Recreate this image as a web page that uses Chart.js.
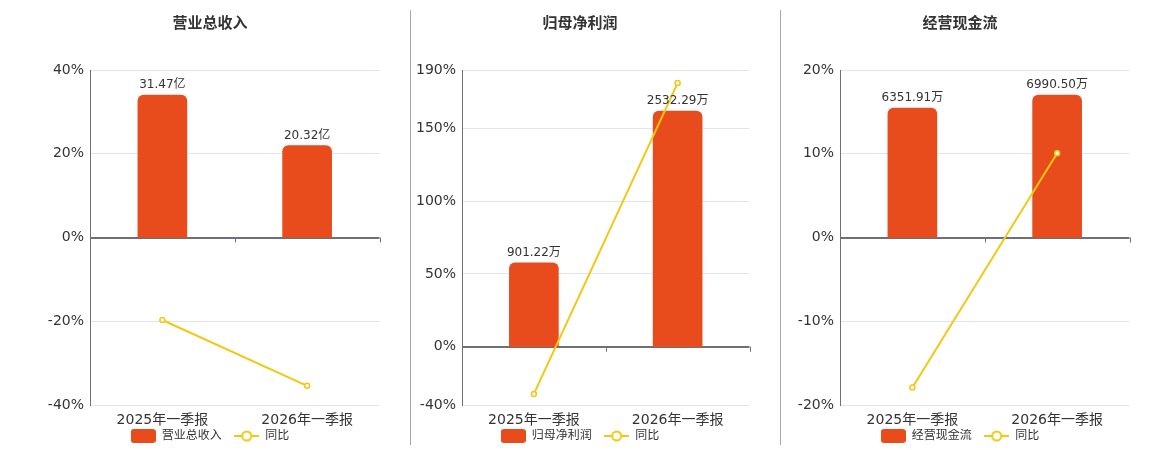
<!DOCTYPE html>
<html>
<head>
<meta charset="utf-8">
<script src="https://cdn.jsdelivr.net/npm/chart.js@4.4.1/dist/chart.umd.min.js"></script>
<style>
    body { margin: 0; background: #fff; width: 1160px; height: 450px; position: relative; overflow: hidden; }
    .panel { position: absolute; top: 0; height: 452px; }
    .sep { position: absolute; top: 10px; height: 435px; width: 1px; background: #a8a8a2; }
</style>
</head>
<body>
<div class="sep" style="left:410px"></div>
<div class="sep" style="left:780px"></div>
<div class="panel" style="left:35px;width:350px"><canvas id="c1" width="350" height="452"></canvas></div>
<div class="panel" style="left:405px;width:350px"><canvas id="c2" width="350" height="452"></canvas></div>
<div class="panel" style="left:785px;width:350px"><canvas id="c3" width="350" height="452"></canvas></div>

<script>
// 数据
const periods = ["2025年一季报", "2026年一季报"];

const revenue = [31.47, 20.32];       // 亿
const revenueYoy = [-19.7, -35.43];   // %
const revenueTicks = [-40, -20, 0, 20, 40];

const profit = [901.22, 2532.29];     // 万
const profitYoy = [-32.4, 180.99];
const profitTicks = [-40, 0, 50, 100, 150, 190];

const cashFlow = [6351.91, 6990.50];  // 万
const cashFlowYoy = [-17.9, 10.05];
const cashFlowTicks = [-20, -10, 0, 10, 20];

// 柱子的隐藏轴范围 (0 要和百分比轴的 0 对齐)
const revenueBarRange = [-37, 37];
const profitBarRange = [-626, 2974];
const cashFlowBarRange = [-8224, 8224];

const BAR_COLOR = "#E84C1C";
const LINE_COLOR = "#F2C811";

Chart.defaults.font.family = '"DejaVu Sans", "Noto Sans CJK SC", sans-serif';
Chart.defaults.color = "#333";

// 图例小图标
function legendBar() {
    const c = document.createElement("canvas");
    c.width = 25; c.height = 14;
    const g = c.getContext("2d");
    g.fillStyle = BAR_COLOR;
    g.beginPath();
    g.roundRect(0, 0, 25, 14, 3);
    g.fill();
    return c;
}

function legendLine() {
    const c = document.createElement("canvas");
    c.width = 25; c.height = 14;
    const g = c.getContext("2d");
    g.strokeStyle = LINE_COLOR;
    g.lineWidth = 2;
    g.beginPath();
    g.moveTo(0, 7); g.lineTo(25, 7);
    g.stroke();
    g.beginPath();
    g.arc(12.5, 7, 4.5, 0, Math.PI * 2);
    g.fillStyle = "#fff";
    g.fill();
    g.stroke();
    return c;
}

// 柱子上的数值 + 0轴上的刻度
const extras = {
    id: "extras",
    beforeDatasetsDraw(chart) {
        const ctx = chart.ctx;
        const x = chart.scales.x;
        const y0 = chart.scales.y.getPixelForValue(0);
        const n = chart.data.labels.length;
        ctx.save();
        ctx.strokeStyle = "#6e7079";
        ctx.lineWidth = 1;
        for (let i = 0; i <= n; i++) {
            const xb = Math.round(x.left + i * x.width / n) + 0.5;
            ctx.beginPath();
            ctx.moveTo(xb, y0);
            ctx.lineTo(xb, y0 + 5);
            ctx.stroke();
        }
        ctx.restore();
    },
    afterDatasetsDraw(chart, args, opts) {
        const ctx = chart.ctx;
        const meta = chart.getDatasetMeta(0);
        const vals = chart.data.datasets[0].data;
        ctx.save();
        ctx.font = '12px "DejaVu Sans", "Noto Sans CJK SC", sans-serif';
        ctx.fillStyle = "#333";
        ctx.textAlign = "center";
        ctx.textBaseline = "bottom";
        meta.data.forEach((bar, i) => {
            ctx.fillText(vals[i].toFixed(2) + opts.unit, bar.x, bar.y - 4);
        });
        ctx.restore();
    }
};

function makeChart(id, title, name, values, unit, yoy, ticks, barRange, axisWidth) {
    const ctx = document.getElementById(id).getContext("2d");
    new Chart(ctx, {
        type: "bar",
        data: {
            labels: periods,
            datasets: [{
                label: name,
                data: values,
                backgroundColor: BAR_COLOR,
                borderRadius: { topLeft: 6, topRight: 6 },
                borderSkipped: "bottom",
                barThickness: 49,
                yAxisID: "y1",
                order: 1
            }, {
                type: "line",
                label: "同比",
                data: yoy,
                borderColor: LINE_COLOR,
                borderWidth: 2,
                pointRadius: 2.5,
                pointBorderWidth: 1.5,
                pointBackgroundColor: "#fff",
                pointBorderColor: LINE_COLOR,
                yAxisID: "y",
                order: 0
            }]
        },
        options: {
            responsive: false,
            animation: false,
            layout: { padding: 0 },
            scales: {
                x: {
                    grid: { display: false, drawTicks: false, tickLength: 0 },
                    border: { display: false },
                    afterFit: s => { s.height = 24; },
                    ticks: { font: { size: 14 }, color: "#333", padding: 7 }
                },
                y: {
                    min: ticks[0],
                    max: ticks[ticks.length - 1],
                    afterBuildTicks: s => { s.ticks = ticks.map(v => ({ value: v })); },
                    afterFit: s => { s.width = axisWidth; },
                    ticks: { callback: v => v + "%", font: { size: 14 }, color: "#333", padding: 6 },
                    grid: {
                        drawTicks: false,
                        color: c => (c.tick && c.tick.value === 0) ? "#6e7079" : "#e0e6f1",
                        lineWidth: c => (c.tick && c.tick.value === 0) ? 2 : 1
                    },
                    border: { display: true, color: "#6e7079", width: 1 }
                },
                y1: { display: false, min: barRange[0], max: barRange[1] }
            },
            plugins: {
                title: {
                    display: true,
                    text: title,
                    font: { size: 15, weight: "bold" },
                    color: "#333",
                    padding: { top: 15, bottom: 37 }
                },
                legend: {
                    position: "bottom",
                    labels: {
                        usePointStyle: true,
                        pointStyleWidth: 25,
                        font: { size: 12 },
                        color: "#333",
                        padding: 1,
                        // 两个图例之间的空隙用空格撑开
                        generateLabels: () => [
                            { text: name + "   ", pointStyle: legendBar(), datasetIndex: 0, fontColor: "#333", lineWidth: 0, strokeStyle: "transparent", fillStyle: BAR_COLOR },
                            { text: "同比", pointStyle: legendLine(), datasetIndex: 1, fontColor: "#333", lineWidth: 0, strokeStyle: "transparent", fillStyle: LINE_COLOR }
                        ]
                    }
                },
                tooltip: { enabled: false },
                extras: { unit: unit }
            }
        },
        plugins: [extras]
    });
}

makeChart("c1", "营业总收入", "营业总收入", revenue, "亿", revenueYoy, revenueTicks, revenueBarRange, 55);
makeChart("c2", "归母净利润", "归母净利润", profit, "万", profitYoy, profitTicks, profitBarRange, 57);
makeChart("c3", "经营现金流", "经营现金流", cashFlow, "万", cashFlowYoy, cashFlowTicks, cashFlowBarRange, 55);
</script>
</body>
</html>
